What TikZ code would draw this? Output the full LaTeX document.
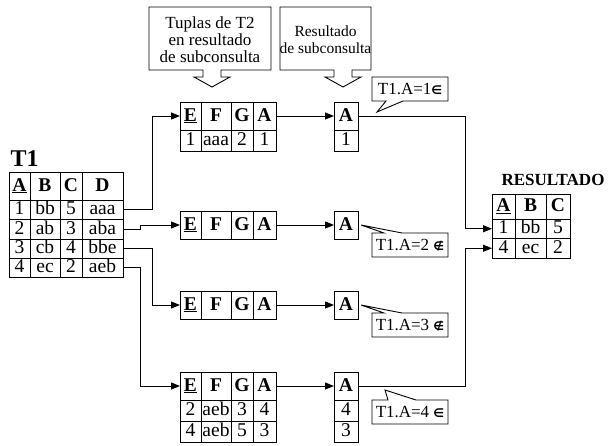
\documentclass[tikz,border=0pt]{standalone}
\usepackage{fontspec}
\setmainfont{Liberation Serif}
\newfontfamily\mysymf{DejaVu Sans}
\usetikzlibrary{arrows.meta}
% \cellnode{name}{x1}{y1}{x2}{y2}{text}
\newcommand\cellnode[6]{\node[cellbox, minimum width={(#4-#2)*1pt}, minimum height={(#5-#3)*1pt}] (#1) at ({(#2+#4)/2},{(#3+#5)/2}) {#6};}
\newcommand\hd[1]{\textbf{#1}}
\newcommand\uhd[1]{\textbf{\underline{#1}}}
\newcommand\inm{{\mysymf\bfseries\fontsize{12}{12}\selectfont ∈}}
\newcommand\ninm{{\mysymf\bfseries\fontsize{12}{12}\selectfont ∉}}
\begin{document}
\begin{tikzpicture}[x=1pt,y=-1pt,line width=1pt,
  cellbox/.style={draw, inner sep=0pt, outer sep=0pt, text height=13.5pt, text depth=3.5pt, font=\fontsize{19.5}{21}\selectfont},
  arr/.style={-{Triangle[length=9pt,width=7pt]}},
  callout/.style={draw, fill=white, line width=0.9pt, line join=miter},
  ctext/.style={font=\fontsize{17}{17}\selectfont, align=center, inner sep=0pt},
  ctextb/.style={font=\fontsize{15.5}{17}\selectfont, align=center, inner sep=0pt},
  ttl/.style={font=\fontsize{24}{24}\selectfont\bfseries, inner sep=0pt},
  rtl/.style={font=\fontsize{17}{17}\selectfont\bfseries, inner sep=0pt}]
\useasboundingbox (0,0) rectangle (611,445);
\clip (0,0) rectangle (611,445);
\fill[white] (0,0) rectangle (611,445);

% ---- T1 ----
\node[ttl, anchor=west] (t1title) at (10,159) {T1};
\cellnode{t1h1}{9}{172}{30}{200}{\uhd{A}}
\cellnode{t1h2}{30}{172}{60}{200}{\hd{B}}
\cellnode{t1h3}{60}{172}{82}{200}{\hd{C}}
\cellnode{t1h4}{82}{172}{123}{200}{\hd{D}}
\cellnode{t1r1c1}{9}{200}{30}{219.5}{1}
\cellnode{t1r1c2}{30}{200}{60}{219.5}{bb}
\cellnode{t1r1c3}{60}{200}{82}{219.5}{5}
\cellnode{t1r1c4}{82}{200}{123}{219.5}{aaa}
\cellnode{t1r2c1}{9}{219.5}{30}{239}{2}
\cellnode{t1r2c2}{30}{219.5}{60}{239}{ab}
\cellnode{t1r2c3}{60}{219.5}{82}{239}{3}
\cellnode{t1r2c4}{82}{219.5}{123}{239}{aba}
\cellnode{t1r3c1}{9}{239}{30}{258}{3}
\cellnode{t1r3c2}{30}{239}{60}{258}{cb}
\cellnode{t1r3c3}{60}{239}{82}{258}{4}
\cellnode{t1r3c4}{82}{239}{123}{258}{bbe}
\cellnode{t1r4c1}{9}{258}{30}{277}{4}
\cellnode{t1r4c2}{30}{258}{60}{277}{ec}
\cellnode{t1r4c3}{60}{258}{82}{277}{2}
\cellnode{t1r4c4}{82}{258}{123}{277}{aeb}

% ---- E tables ----
\cellnode{e1h1}{180}{102}{201}{130}{\uhd{E}}
\cellnode{e1h2}{201}{102}{231}{130}{\hd{F}}
\cellnode{e1h3}{231}{102}{253}{130}{\hd{G}}
\cellnode{e1h4}{253}{102}{276}{130}{\hd{A}}
\cellnode{e1r1c1}{180}{130}{201}{151}{1}
\cellnode{e1r1c2}{201}{130}{231}{151}{aaa}
\cellnode{e1r1c3}{231}{130}{253}{151}{2}
\cellnode{e1r1c4}{253}{130}{276}{151}{1}

\cellnode{e2h1}{180}{211}{201}{239}{\uhd{E}}
\cellnode{e2h2}{201}{211}{231}{239}{\hd{F}}
\cellnode{e2h3}{231}{211}{253}{239}{\hd{G}}
\cellnode{e2h4}{253}{211}{276}{239}{\hd{A}}

\cellnode{e3h1}{180}{291}{201}{319}{\uhd{E}}
\cellnode{e3h2}{201}{291}{231}{319}{\hd{F}}
\cellnode{e3h3}{231}{291}{253}{319}{\hd{G}}
\cellnode{e3h4}{253}{291}{276}{319}{\hd{A}}

\cellnode{e4h1}{180}{372}{201}{400}{\uhd{E}}
\cellnode{e4h2}{201}{372}{231}{400}{\hd{F}}
\cellnode{e4h3}{231}{372}{253}{400}{\hd{G}}
\cellnode{e4h4}{253}{372}{276}{400}{\hd{A}}
\cellnode{e4r1c1}{180}{400}{201}{421}{2}
\cellnode{e4r1c2}{201}{400}{231}{421}{aeb}
\cellnode{e4r1c3}{231}{400}{253}{421}{3}
\cellnode{e4r1c4}{253}{400}{276}{421}{4}
\cellnode{e4r2c1}{180}{421}{201}{442}{4}
\cellnode{e4r2c2}{201}{421}{231}{442}{aeb}
\cellnode{e4r2c3}{231}{421}{253}{442}{5}
\cellnode{e4r2c4}{253}{421}{276}{442}{3}

% ---- A boxes ----
\cellnode{a1h}{334}{102}{358}{130}{\hd{A}}
\cellnode{a1r1}{334}{130}{358}{151}{1}
\cellnode{a2h}{334}{211}{358}{239}{\hd{A}}
\cellnode{a3h}{334}{291}{358}{319}{\hd{A}}
\cellnode{a4h}{334}{372}{358}{400}{\hd{A}}
\cellnode{a4r1}{334}{400}{358}{421}{4}
\cellnode{a4r2}{334}{421}{358}{442}{3}

% ---- RESULTADO ----
\node[rtl] (restitle) at (553,180) {RESULTADO};
\cellnode{rh1}{492}{194}{515}{219}{\uhd{A}}
\cellnode{rh2}{515}{194}{546}{219}{\hd{B}}
\cellnode{rh3}{546}{194}{570}{219}{\hd{C}}
\cellnode{rr1c1}{492}{219}{515}{238.5}{1}
\cellnode{rr1c2}{515}{219}{546}{238.5}{bb}
\cellnode{rr1c3}{546}{219}{570}{238.5}{5}
\cellnode{rr2c1}{492}{238.5}{515}{258}{4}
\cellnode{rr2c2}{515}{238.5}{546}{258}{ec}
\cellnode{rr2c3}{546}{238.5}{570}{258}{2}

% ---- connectors ----
\draw[arr] (t1r1c4.east) -- ++(29,0) |- (e1h1.west);
\draw[arr] (t1r2c4.east) -- ++(17,0) |- (e2h1.west);
\draw[arr] (t1r3c4.east) -- ++(29,0) |- (e3h1.west);
\draw[arr] (t1r4c4.east) -- ++(17,0) |- (e4h1.west);
\draw[arr] (e1h4.east) -- (a1h.west);
\draw[arr] (e2h4.east) -- (a2h.west);
\draw[arr] (e3h4.east) -- (a3h.west);
\draw[arr] (e4h4.east) -- (a4h.west);
\draw[arr] (a1h.east) -- ++(107,0) |- (rr1c1.west);
\draw[arr] (a4h.east) -- ++(107,0) |- (rr2c1.west);

% ---- top callouts ----
\draw[callout] (149,70) -- (203,70) -- (203,77) -- (194,77) -- (212,87) -- (230,77) -- (221,77) -- (221,70) -- (271,70) -- (271,7) -- (149,7) -- cycle;
\node[ctext] (cap1) at (210,39.5) {Tuplas de T2\\en resultado\\de subconsulta};
\draw[callout] (280,70) -- (334,70) -- (334,77) -- (325,77) -- (343,87) -- (361,77) -- (352,77) -- (352,70) -- (371,70) -- (371,7) -- (280,7) -- cycle;
\node[ctextb] (cap2) at (325.5,40) {Resultado\\de subconsulta};

% ---- small callouts ----
\draw[callout] (372,77) -- (448,77) -- (448,101) -- (403,101) -- (377,112) -- (386,101) -- (372,101) -- cycle;
\node[ctext] (c1) at (410,89) {T1.A=1\inm};
\draw[callout] (372,233) -- (384,233) -- (361,225) -- (402,233) -- (448,233) -- (448,257) -- (372,257) -- cycle;
\node[ctext] (c2) at (410,245) {T1.A=2 \ninm};
\draw[callout] (372,313) -- (384,313) -- (361,305) -- (402,313) -- (448,313) -- (448,337) -- (372,337) -- cycle;
\node[ctext] (c3) at (410,325) {T1.A=3 \ninm};
\draw[callout] (372,400) -- (388,400) -- (385,390) -- (416,400) -- (448,400) -- (448,424) -- (372,424) -- cycle;
\node[ctext] (c4) at (410,412) {T1.A=4 \inm};
\end{tikzpicture}
\end{document}
